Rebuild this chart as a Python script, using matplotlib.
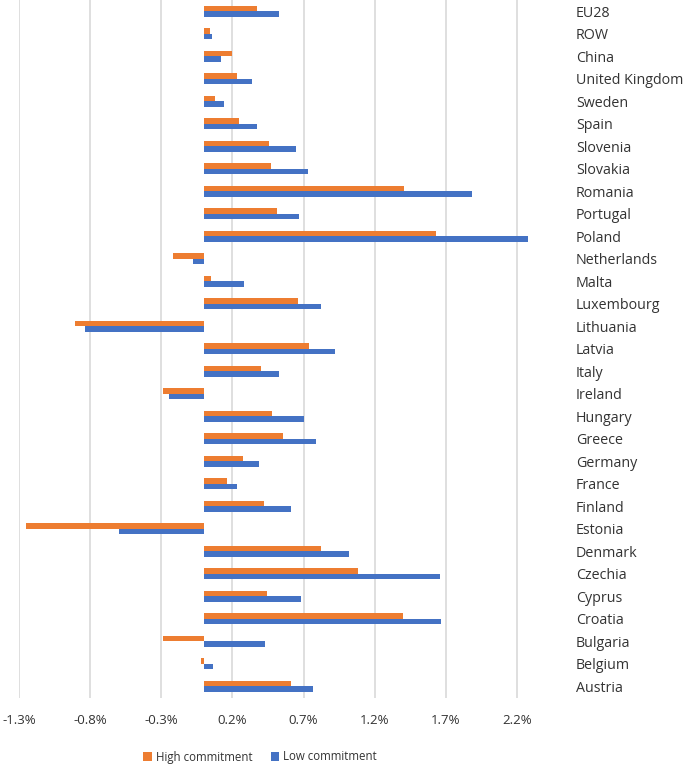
import numpy as np
import matplotlib
matplotlib.use("Agg")
import matplotlib.pyplot as plt
from matplotlib.ticker import FuncFormatter

plt.rcParams['font.family'] = ['Open Sans', 'DejaVu Sans']

# categories, bottom to top
countries = ["Austria", "Belgium", "Bulgaria", "Croatia", "Cyprus", "Czechia",
             "Denmark", "Estonia", "Finland", "France", "Germany", "Greece",
             "Hungary", "Ireland", "Italy", "Latvia", "Lithuania", "Luxembourg",
             "Malta", "Netherlands", "Poland", "Portugal", "Romania", "Slovakia",
             "Slovenia", "Spain", "Sweden", "United Kingdom", "China", "ROW", "EU28"]

# percent values
high = [0.61, -0.02, -0.29, 1.40, 0.44, 1.08,
        0.82, -1.25, 0.42, 0.16, 0.275, 0.555,
        0.475, -0.29, 0.40, 0.74, -0.905, 0.66,
        0.05, -0.215, 1.63, 0.51, 1.405, 0.47,
        0.455, 0.245, 0.08, 0.23, 0.195, 0.045, 0.37]
low = [0.765, 0.06, 0.43, 1.67, 0.685, 1.66,
       1.02, -0.60, 0.615, 0.23, 0.385, 0.785,
       0.705, -0.245, 0.53, 0.925, -0.835, 0.825,
       0.28, -0.08, 2.28, 0.67, 1.885, 0.735,
       0.65, 0.37, 0.14, 0.335, 0.12, 0.055, 0.53]

xticks = [-1.3, -0.8, -0.3, 0.2, 0.7, 1.2, 1.7, 2.2]

orange = "#ED7D31"
blue = "#4472C4"
txt = "#333333"

fig = plt.figure(figsize=(6.85, 7.65), dpi=100)
ax = fig.add_axes([19.3/685, 1-697.5/765, 540/685, 697.5/765])

y = np.arange(len(countries))
h = 0.25
ax.barh(y + 0.13, high, height=h, color=orange, label="High commitment", zorder=3)
ax.barh(y - 0.13, low, height=h, color=blue, label="Low commitment", zorder=3)

ax.set_xlim(-1.3, 2.5)
ax.set_ylim(-0.5, len(countries) - 0.5)
ax.set_xticks(xticks)
ax.xaxis.set_major_formatter(FuncFormatter(lambda v, p: f"{v:.1f}%"))
ax.grid(axis="x", color="#D9D9D9", linewidth=1.2, zorder=0)
ax.set_yticks(y)
ax.set_yticklabels(countries)
ax.yaxis.tick_right()
for s in ax.spines.values():
    s.set_visible(False)
ax.tick_params(axis="y", length=0, pad=12, labelsize=10.3, labelcolor=txt)
ax.tick_params(axis="x", length=0, pad=12, labelsize=9.5, labelcolor=txt)

fig.legend(loc="center", bbox_to_anchor=(260/685, 1-757/765), ncol=2, frameon=False,
           fontsize=8.3, handlelength=0.75, handleheight=0.75, handletextpad=0.3,
           columnspacing=1.6, labelcolor=txt)

fig.savefig("out.png", dpi=100)
